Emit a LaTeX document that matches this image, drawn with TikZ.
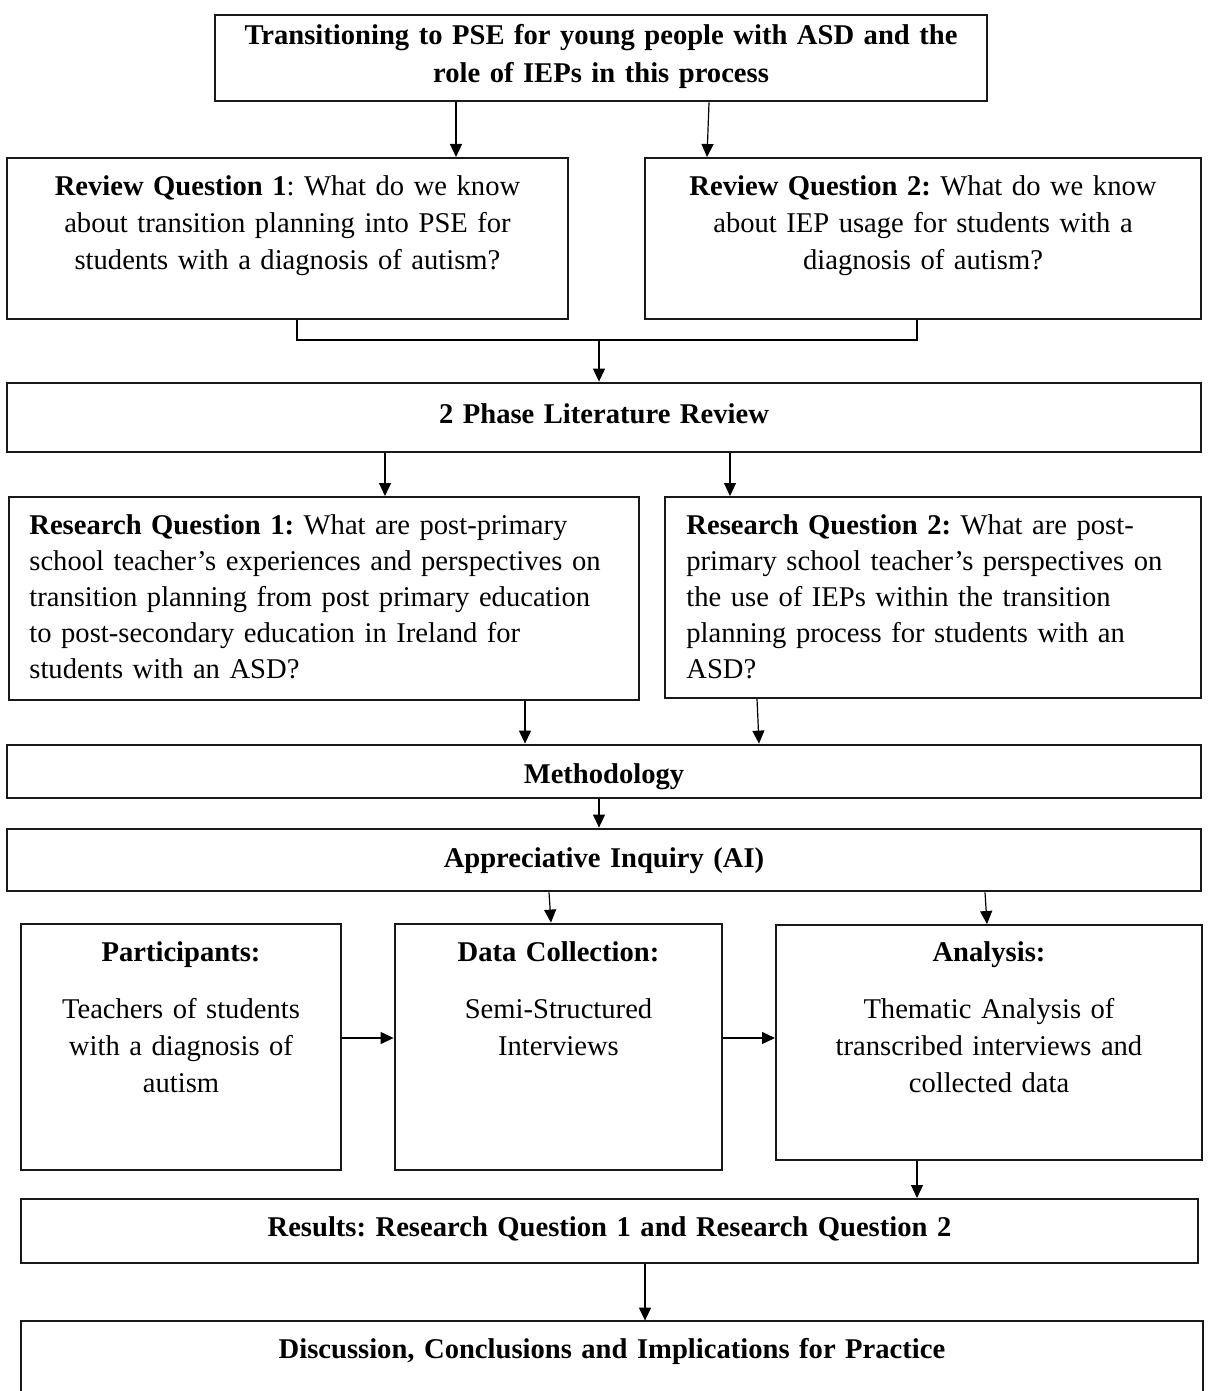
\documentclass[tikz,border=0pt]{standalone}
\usepackage{fontspec}
\setmainfont{Liberation Serif}
\usetikzlibrary{arrows.meta,fit}
\frenchspacing
\begin{document}
\begin{tikzpicture}[x=0.5pt,y=-0.5pt,
  frame/.style={draw=black!90, line width=1pt, inner sep=0pt},
  heavy/.style={frame, line width=1.4pt},
  ctext/.style={text width=560pt, align=center, inner sep=0pt, anchor=base,
    font=\fontsize{14.3}{18.5}\selectfont},
  ltext/.style={text width=320pt, align=left, inner sep=0pt, anchor=base west,
    font=\fontsize{14.3}{18}\selectfont},
  conn/.style={-{Triangle[length=6.5pt,width=6pt]}, line width=0.6pt},
  link/.style={line width=0.6pt}]
\useasboundingbox (0,0) rectangle (1208,1391);

% --- title
\node[heavy, fit={(215,15)(987,101)}] (top) {};
\node[ctext, font=\fontsize{14.3}{19}\selectfont] (toptext) at (601,45)
  {\textbf{Transitioning to PSE for young people with ASD and the\\ role of IEPs in this process}};

% --- review questions
\node[frame, fit={(7,158)(568,319)}] (rv1) {};
\node[ctext] (rv1text) at (287.5,196)
  {\textbf{Review Question 1}: What do we know\\ about transition planning into PSE for\\ students with a diagnosis of autism?};
\node[frame, fit={(645,158)(1201,319)}] (rv2) {};
\node[ctext] (rv2text) at (923,196)
  {\textbf{Review Question 2:} What do we know\\ about IEP usage for students with a\\ diagnosis of autism?};

\coordinate (a1) at (456,0);
\coordinate (a2s) at (709,0);
\coordinate (a2e) at (707,0);
\draw[conn] (top.south -| a1) -- (rv1.north -| a1);
\draw[conn] (top.south -| a2s) -- (rv2.north -| a2e);

% --- literature review
\node[heavy, fit={(7,383)(1201,452)}] (lit) {};
\node[ctext] (littext) at (604,423) {\textbf{2 Phase Literature Review}};

\coordinate (bl) at (297,340);
\coordinate (bm) at (599,340);
\coordinate (br) at (917,340);
\draw[link] (rv1.south -| bl) -- (bl) -- (br) -- (rv2.south -| br);
\draw[conn] (bm) -- (lit.north -| bm);

% --- research questions
\node[frame, fit={(9,497)(639,700)}] (rq1) {};
\node[ltext] (rq1text) at (29,534)
  {\textbf{Research Question 1:} What are post-primary\\
   school teacher’s experiences and perspectives on\\
   transition planning from post primary education\\
   to post-secondary education in Ireland for\\
   students with an ASD?};
\node[frame, fit={(665,497)(1201,698)}] (rq2) {};
\node[ltext] (rq2text) at (686,534)
  {\textbf{Research Question 2:} What are post-\\
   primary school teacher’s perspectives on\\
   the use of IEPs within the transition\\
   planning process for students with an\\
   ASD?};

\coordinate (c1) at (385,0);
\coordinate (c2) at (730,0);
\draw[conn] (lit.south -| c1) -- (rq1.north -| c1);
\draw[conn] (lit.south -| c2) -- (rq2.north -| c2);

% --- methodology
\node[heavy, fit={(7,745)(1201,798)}] (meth) {};
\node[ctext] (methtext) at (604,783) {\textbf{Methodology}};
\coordinate (d1) at (525,0);
\coordinate (d2s) at (757,0);
\coordinate (d2e) at (759,0);
\draw[conn] (rq1.south -| d1) -- (meth.north -| d1);
\draw[conn] (rq2.south -| d2s) -- (meth.north -| d2e);

% --- appreciative inquiry
\node[heavy, fit={(7,829)(1201,891)}] (ai) {};
\node[ctext] (aitext) at (604,867) {\textbf{Appreciative Inquiry (AI)}};
\coordinate (e1) at (599,0);
\draw[conn] (meth.south -| e1) -- (ai.north -| e1);

% --- study stages
\node[frame, fit={(21,924)(341,1170)}] (part) {};
\node[ctext] (parthead) at (181,961) {\textbf{Participants:}};
\node[ctext] (partbody) at (181,1018)
  {Teachers of students\\ with a diagnosis of\\ autism};

\node[heavy, fit={(395,924)(722,1170)}] (data) {};
\node[ctext] (datahead) at (558.5,961) {\textbf{Data Collection:}};
\node[ctext] (databody) at (558.5,1018) {Semi-Structured\\ Interviews};

\node[frame, fit={(776,925)(1202,1160)}] (ana) {};
\node[ctext] (anahead) at (989,961) {\textbf{Analysis:}};
\node[ctext] (anabody) at (989,1018)
  {Thematic Analysis of\\ transcribed interviews and\\ collected data};

\coordinate (f1s) at (549,0);
\coordinate (f1e) at (551,0);
\coordinate (f2s) at (985,0);
\coordinate (f2e) at (987,0);
\draw[conn] (ai.south -| f1s) -- (data.north -| f1e);
\draw[conn] (ai.south -| f2s) -- (ana.north -| f2e);

\coordinate (h) at (0,1038);
\draw[conn] (part.east |- h) -- (data.west |- h);
\draw[conn] (data.east |- h) -- (ana.west |- h);

% --- results and discussion
\node[frame, fit={(21,1199)(1198,1263)}] (res) {};
\node[ctext] (restext) at (609.5,1236)
  {\textbf{Results: Research Question 1 and Research Question 2}};
\coordinate (g1) at (917,0);
\draw[conn] (ana.south -| g1) -- (res.north -| g1);

\node[inner sep=0pt, fit={(21,1321)(1203,1396)}] (disc) {};
\draw[black!90, line width=1pt] (disc.south west) -- (disc.north west)
  -- (disc.north east) -- (disc.south east);
\node[ctext] (disctext) at (612,1358)
  {\textbf{Discussion, Conclusions and Implications for Practice}};
\coordinate (g2) at (645,0);
\draw[conn] (res.south -| g2) -- (disc.north -| g2);
\end{tikzpicture}
\end{document}
